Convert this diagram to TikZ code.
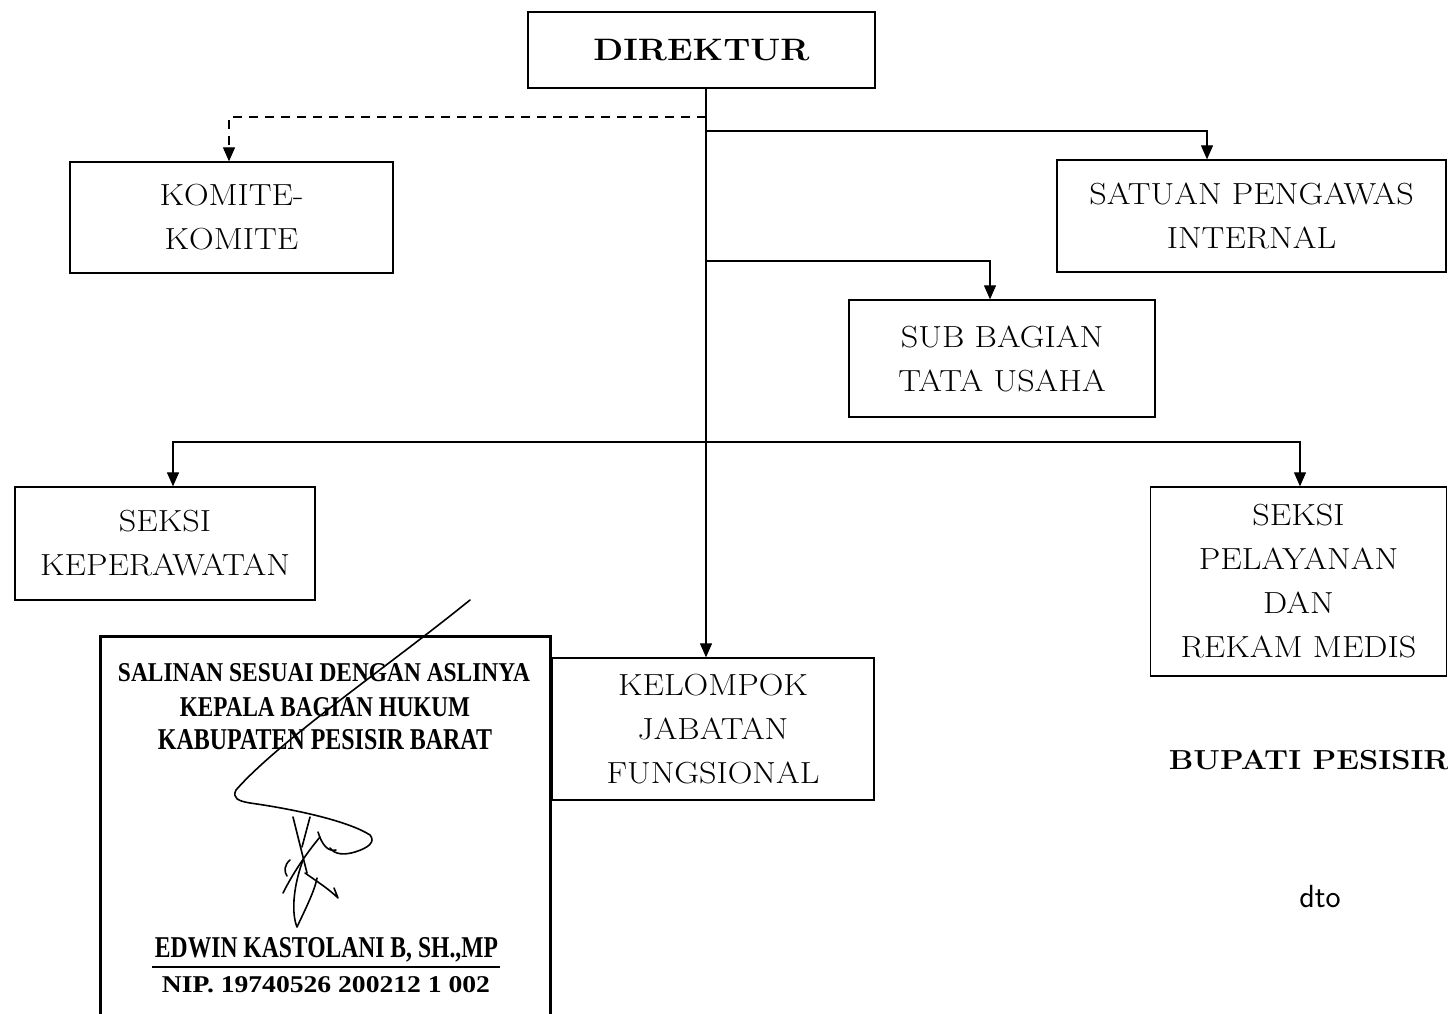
\documentclass[tikz,border=0pt]{standalone}
\usepackage{fontspec}
\usepackage{graphicx}
\setmainfont{Latin Modern Roman}[FakeStretch=1.12]
\newfontfamily\stampfont{Liberation Serif}
\usetikzlibrary{arrows.meta}
\begin{document}
\begin{tikzpicture}[x=1pt,y=-1pt,
  box/.style={draw, line width=1.3pt, inner sep=0pt, align=center,
    font=\fontsize{30.5}{44}\selectfont},
  conn/.style={line width=1.1pt},
  arr/.style={conn, -{Triangle[length=14pt,width=12pt]}},
  dashconn/.style={arr, dash pattern=on 9pt off 7pt},
  stampbox/.style={draw, line width=3pt, fill=white, inner sep=0pt},
  stamptxt/.style={inner sep=0pt, font=\stampfont\bfseries},
  sig/.style={line width=1.6pt, line cap=round, line join=round},
]
\useasboundingbox (0,0) rectangle (1448,1014);
\fill[white] (0,0) rectangle (1448,1014);

% boxes
\node[box, minimum width=347pt, minimum height=76pt] (dir) at (701.5,50)
  {\fontsize{31}{36}\selectfont\bfseries DIREKTUR};
\node[box, minimum width=323pt, minimum height=111pt] (kom) at (231.5,217.5)
  {KOMITE-\\KOMITE};
\node[box, minimum width=389pt, minimum height=112pt] (sat) at (1251.5,216)
  {SATUAN PENGAWAS\\INTERNAL};
\node[box, minimum width=306pt, minimum height=117pt] (sub) at (1002,358.5)
  {SUB BAGIAN\\TATA USAHA};
\node[box, minimum width=300pt, minimum height=113pt] (kep) at (165,543.5)
  {SEKSI\\KEPERAWATAN};
\node[box, minimum width=296pt, minimum height=189pt] (pel) at (1298.5,581.5)
  {SEKSI\\PELAYANAN\\DAN\\REKAM MEDIS};
\node[box, minimum width=322pt, minimum height=142pt] (kel) at (713,729)
  {KELOMPOK\\JABATAN\\FUNGSIONAL};

% connectors
\coordinate (trunk) at (706,88);
\coordinate (jk) at (706,117);
\coordinate (js) at (706,131);
\coordinate (jb) at (706,261);
\coordinate (jh) at (706,442);
\draw[arr] (trunk) -- (trunk |- kel.north);
\draw[dashconn] (jk) -| ([xshift=-2.5pt]kom.north);
\draw[arr] (js) -| ([xshift=-44.5pt]sat.north);
\draw[arr] (jb) -| ([xshift=-12pt]sub.north);
\draw[arr] (jh) -| ([xshift=8pt]kep.north);
\draw[arr] (jh) -| ([xshift=1.5pt]pel.north);

% stamp
\node[stampbox, minimum width=450pt, minimum height=384pt] (stamp) at (325,828) {};
\node[stamptxt] (s1) at (324,673) {\resizebox{412pt}{18pt}{SALINAN SESUAI DENGAN ASLINYA}};
\node[stamptxt] (s2) at (325,707) {\resizebox{290pt}{19pt}{KEPALA BAGIAN HUKUM}};
\node[stamptxt] (s3) at (325,740) {\resizebox{334pt}{20pt}{KABUPATEN PESISIR BARAT}};
\node[stamptxt] (s4) at (326.5,950) {\resizebox{343pt}{20pt}{EDWIN KASTOLANI B, SH.,MP}};
\node[stamptxt] (s5) at (326,985) {\resizebox{328pt}{16pt}{NIP. 19740526 200212 1 002}};
\coordinate (ul1) at (152,967);
\coordinate (ul2) at (500,967);
\draw[line width=1.6pt] (ul1) -- (ul2);

% signature
\draw[sig] (470,600) .. controls (390,665) and (280,740) .. (236,790)
  .. controls (232,798) and (238,801) .. (250,803)
  .. controls (300,810) and (350,822) .. (370,835)
  .. controls (376,842) and (368,848) .. (355,852)
  .. controls (345,855) and (335,855) .. (330,848);
\draw[sig] (318,832) .. controls (322,845) and (328,852) .. (336,850);
\draw[sig] (293,817) -- (307,873);
\draw[sig] (310,817) -- (302,847);
\draw[sig] (320,837) .. controls (305,855) and (292,875) .. (283,893);
\draw[sig] (303,860) .. controls (292,890) and (292,915) .. (297,927)
  .. controls (305,910) and (315,890) .. (317,878);
\draw[sig] (305,873) .. controls (318,882) and (330,890) .. (338,898) -- (334,888);
\draw[sig] (290,860) .. controls (284,865) and (284,872) .. (287,876);

% right side texts
\node[inner sep=0pt, font=\fontsize{27.5}{30}\selectfont\bfseries] (bup) at (1309,760) {BUPATI PESISIR};
\node[inner sep=0pt, font=\fontsize{32}{34}\sffamily] (dto) at (1320,897) {dto};
\end{tikzpicture}
\end{document}
